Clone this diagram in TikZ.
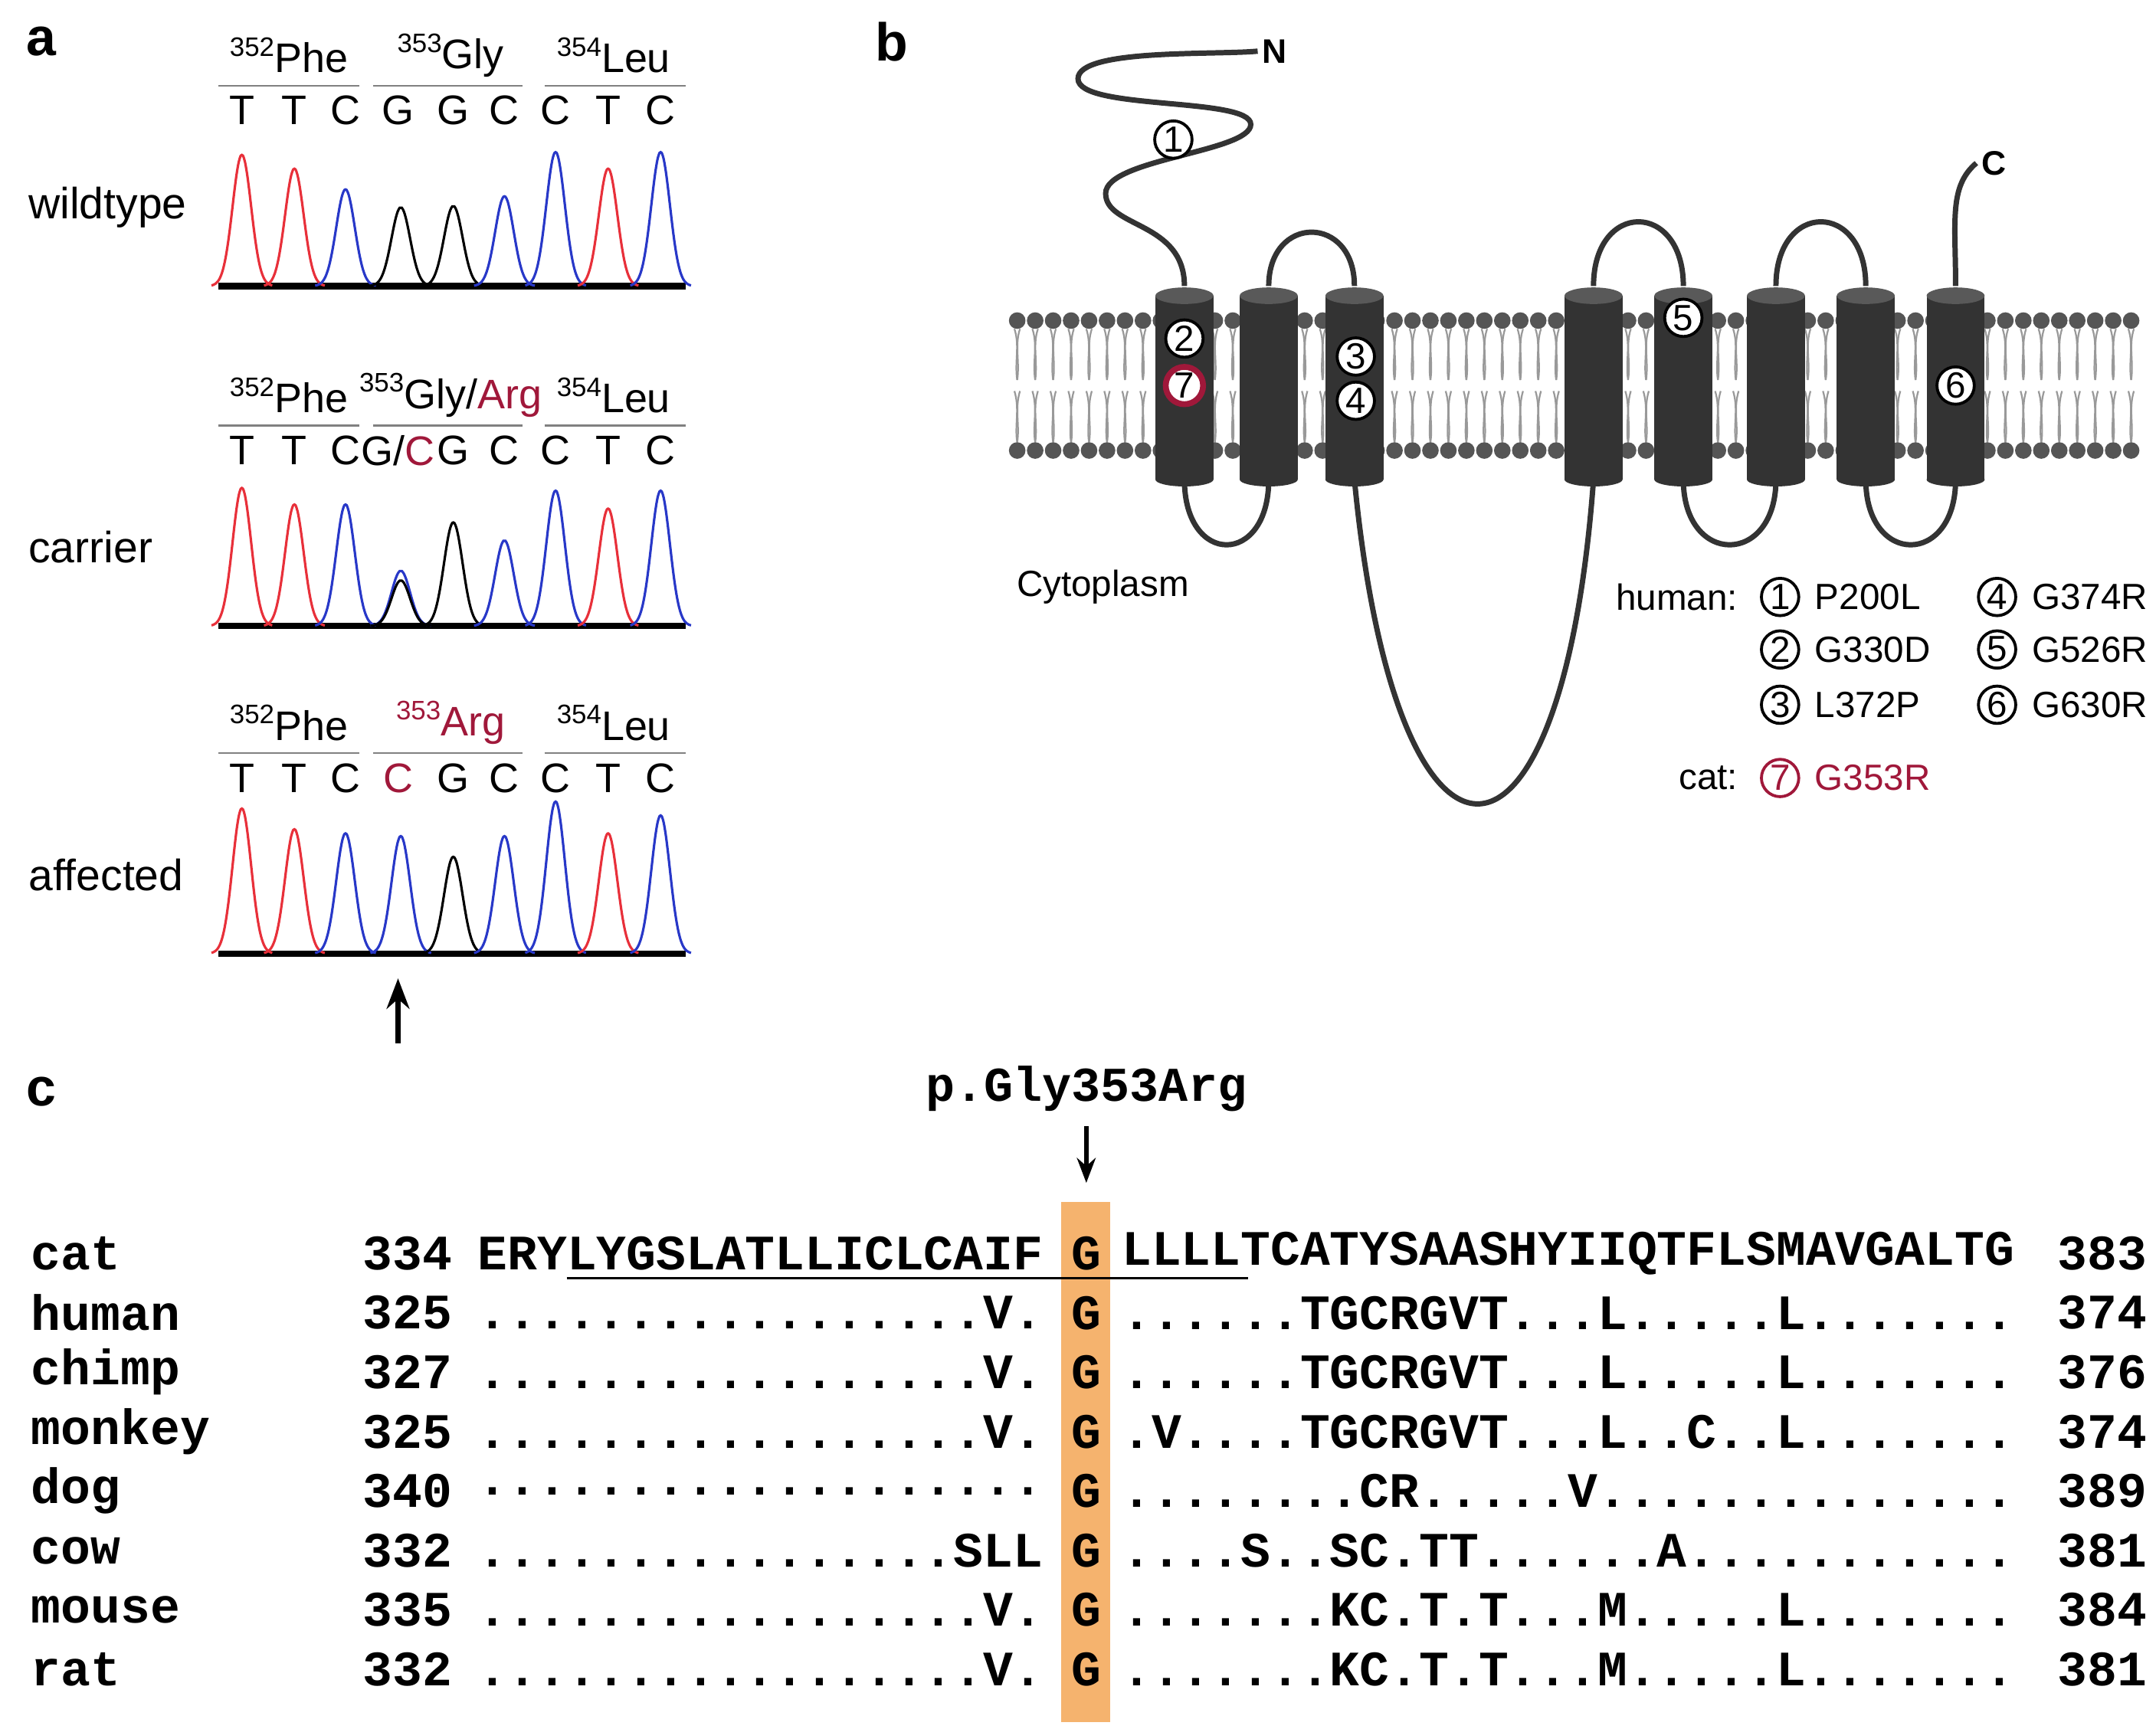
\documentclass[tikz,border=0pt]{standalone}
\usepackage{fontspec}
\setmainfont{Liberation Sans}
\newfontfamily\seqfont{Liberation Mono}
\usepackage{xcolor}
\definecolor{mutRed}{HTML}{A0183A}
\definecolor{peakRed}{HTML}{E8303A}
\definecolor{peakBlue}{HTML}{2838C8}
\definecolor{helix}{HTML}{333333}
\definecolor{lipid}{HTML}{555555}
\definecolor{highlight}{HTML}{F5B36E}
\usetikzlibrary{positioning, calc, arrows.meta}
% residue number as a small superscript
\newcommand{\resnum}[1]{\raisebox{0.75ex}{\fontsize{5.5}{6}\selectfont #1}}
% one row of the alignment
\newcommand{\alnrow}[6]{%
    \node[seq] (name#1) at (22,907+43*#1) {#2};
    \node[seq] (from#1) at (262,907+43*#1) {#3};
    \node[seq] (left#1) at (345,907+43*#1) {#4};
    \node[seq, anchor=center] (g#1) at (786,907+43*#1) {G};
    \node[seq] (right#1) at (811,907+43*#1) {#5};
    \node[seq] (to#1) at (1488,907+43*#1) {#6};
}

\begin{document}
\begin{tikzpicture}[x=0.01cm, y=-0.01cm,
        panel/.style={font=\bfseries\fontsize{11}{13}\selectfont, inner sep=0},
        rowlabel/.style={font=\fontsize{9}{11}\selectfont, anchor=west, inner sep=0},
        codon/.style={font=\fontsize{8.5}{10}\selectfont, inner sep=0},
        base/.style={font=\fontsize{8.5}{10}\selectfont, inner sep=0},
        legend/.style={font=\fontsize{7.5}{9}\selectfont, anchor=west, inner sep=0},
        site/.style={circle, draw=black, fill=white, line width=0.6pt, minimum size=0.27cm, inner sep=0, font=\fontsize{7.5}{8}\selectfont},
        seq/.style={font=\seqfont\bfseries\fontsize{10.2}{12}\selectfont, inner sep=0, anchor=west},
        chain/.style={line width=1.1pt, draw=helix},
        peak/.style={line width=0.5pt, smooth, samples=30}
    ]
    \useasboundingbox (0,0) rectangle (1560,1251);

    % panel a
    \node[panel] (pa) at (30,30) {a};
    \foreach \row/\yb/\lab in {1/207/wildtype, 2/453/carrier, 3/690/affected}{
        \node[rowlabel] (lab\row) at (20,\yb-57) {\lab};
        \draw[line width=1.3pt] (158,\yb) -- (496,\yb);
        \foreach \xa/\xb in {158/260, 270/378, 394/496}
            \draw[line width=0.4pt, gray] (\xa,\yb-145) -- (\xb,\yb-145);
    }
    % codon headers
    \foreach \yb/\mid in {207/{\resnum{353}Gly}, 453/{\resnum{353}Gly/\textcolor{mutRed}{Arg}}, 690/{\textcolor{mutRed}{\resnum{353}Arg}}}{
        \node[codon] at (209,\yb-167) {\resnum{352}Phe};
        \node[codon] at (326,\yb-167) {\mid};
        \node[codon] at (444,\yb-167) {\resnum{354}Leu};
    }
    % bases
    \foreach \yb/\g in {207/G, 453/{G/\textcolor{mutRed}{C}}, 690/{\textcolor{mutRed}{C}}}{
        \foreach \xb/\b in {175/T, 213/T, 250/C, 328/G, 365/C, 402/C, 440/T, 478/C}
            \node[base] at (\xb,\yb-127) {\b};
        \node[base] at (288,\yb-127) {\g};
    }
    % peaks
    \foreach \xc/\h/\col/\yb in {175/95/peakRed/207, 213/85/peakRed/207, 250/70/peakBlue/207, 290/57/black/207, 328/58/black/207, 365/65/peakBlue/207, 402/97/peakBlue/207, 440/85/peakRed/207, 478/97/peakBlue/207,
        175/100/peakRed/453, 213/88/peakRed/453, 250/88/peakBlue/453, 290/40/peakBlue/453, 290/33/black/453, 328/75/black/453, 365/62/peakBlue/453, 402/98/peakBlue/453, 440/85/peakRed/453, 478/98/peakBlue/453,
        175/105/peakRed/690, 213/90/peakRed/690, 250/87/peakBlue/690, 290/85/peakBlue/690, 328/70/black/690, 365/85/peakBlue/690, 402/110/peakBlue/690, 440/87/peakRed/690, 478/100/peakBlue/690}
        \draw[peak, \col] plot[domain=\xc-22:\xc+22] (\x, {\yb-\h*exp(-((\x-\xc)/9.5)^2)});
    \coordinate (arrowfoot) at (288,755);
    \coordinate (arrowhead) at (288,708);
    \draw[-{Stealth[length=0.22cm]}, line width=1pt] (arrowfoot) -- (arrowhead);

    % panel b
    \node[panel] (pb) at (645,30) {b};
    \foreach \xm in {736,749,...,1550}{
        \draw[lipid!60, line width=0.35pt] (\xm-2,238) .. controls (\xm+2,250) and (\xm-2,262) .. (\xm,275);
        \draw[lipid!60, line width=0.35pt] (\xm+2,238) .. controls (\xm-2,250) and (\xm+2,262) .. (\xm,275);
        \draw[lipid!60, line width=0.35pt] (\xm-2,283) .. controls (\xm+2,296) and (\xm-2,308) .. (\xm,320);
        \draw[lipid!60, line width=0.35pt] (\xm+2,283) .. controls (\xm-2,296) and (\xm+2,308) .. (\xm,320);
        \fill[lipid] (\xm,232) circle (6);
        \fill[lipid] (\xm,326) circle (6);
    }
    % loops
    \draw[chain] (857,207) .. controls (857,160) and (800,165) .. (800,140)
        .. controls (800,115) and (905,110) .. (905,90)
        .. controls (905,70) and (780,80) .. (780,57)
        .. controls (780,35) and (880,40) .. (910,37);
    \node[font=\bfseries\fontsize{7}{8}\selectfont, inner sep=0] (nterm) at (922,37) {N};
    \draw[chain] (918,207) .. controls (918,155) and (980,155) .. (980,207);
    \draw[chain] (1153,207) .. controls (1153,145) and (1218,145) .. (1218,207);
    \draw[chain] (1285,207) .. controls (1285,145) and (1350,145) .. (1350,207);
    \draw[chain] (1415,207) .. controls (1415,160) and (1410,135) .. (1430,118);
    \node[font=\bfseries\fontsize{7}{8}\selectfont, inner sep=0] (cterm) at (1443,118) {C};
    \draw[chain] (857,347) .. controls (857,410) and (918,410) .. (918,347);
    \draw[chain] (980,347) .. controls (1010,660) and (1130,660) .. (1153,347);
    \draw[chain] (1218,347) .. controls (1218,410) and (1285,410) .. (1285,347);
    \draw[chain] (1350,347) .. controls (1350,410) and (1415,410) .. (1415,347);
    % helices
    \foreach \xh in {857,918,980,1153,1218,1285,1350,1415}{
        \fill[helix] (\xh-21,214) rectangle (\xh+21,347);
        \fill[helix] (\xh,347) ellipse (21 and 5);
        \fill[gray!70!black] (\xh,214) ellipse (21 and 6);
    }
    \node[site] (s1) at (849,101) {1};
    \node[site] (s2) at (857,245) {2};
    \node[site, draw=mutRed, line width=1.2pt] (s7) at (857,279) {7};
    \node[site] (s3) at (981,258) {3};
    \node[site] (s4) at (981,290) {4};
    \node[site] (s5) at (1218,230) {5};
    \node[site] (s6) at (1415,279) {6};
    \node[legend] (cyto) at (735,425) {Cytoplasm};
    \node[legend, anchor=east] (human) at (1258,432) {human:};
    \foreach \i/\xl/\yl/\txt in {1/1288/432/P200L, 2/1288/470/G330D, 3/1288/510/L372P, 4/1445/432/G374R, 5/1445/470/G526R, 6/1445/510/G630R}{
        \node[site] (leg\i) at (\xl,\yl) {\i};
        \node[legend, right=0.1cm of leg\i] {\txt};
    }
    \node[legend, anchor=east] (cat) at (1258,563) {cat:};
    \node[site, draw=mutRed] (leg7) at (1288,563) {\textcolor{mutRed}{7}};
    \node[legend, right=0.1cm of leg7, text=mutRed] {G353R};

    % panel c
    \node[panel] (pc) at (30,790) {c};
    \fill[highlight] (768,870) rectangle (803,1246);
    \node[font=\seqfont\bfseries\fontsize{10}{12}\selectfont, inner sep=0] (pname) at (786,788) {p.Gly353Arg};
    \coordinate (gtop) at (786,815);
    \coordinate (gbot) at (786,856);
    \draw[-{Stealth[length=0.18cm]}, line width=0.9pt] (gtop) -- (gbot);
    \alnrow{0}{cat}{334}{ERYLYGSLATLLICLCAIF}{LLLLTCATYSAASHYIIQTFLSMAVGALTG}{383}
    \alnrow{1}{human}{325}{.................V.}{......TGCRGVT...L.....L.......}{374}
    \alnrow{2}{chimp}{327}{.................V.}{......TGCRGVT...L.....L.......}{376}
    \alnrow{3}{monkey}{325}{.................V.}{.V....TGCRGVT...L..C..L.......}{374}
    \alnrow{4}{dog}{340}{...................}{........CR.....V..............}{389}
    \alnrow{5}{cow}{332}{................SLL}{....S..SC.TT......A...........}{381}
    \alnrow{6}{mouse}{335}{.................V.}{.......KC.T.T...M.....L.......}{384}
    \alnrow{7}{rat}{332}{.................V.}{.......KC.T.T...M.....L.......}{381}
    \draw[line width=0.6pt] (410,925) -- (903,925);
\end{tikzpicture}
\end{document}
